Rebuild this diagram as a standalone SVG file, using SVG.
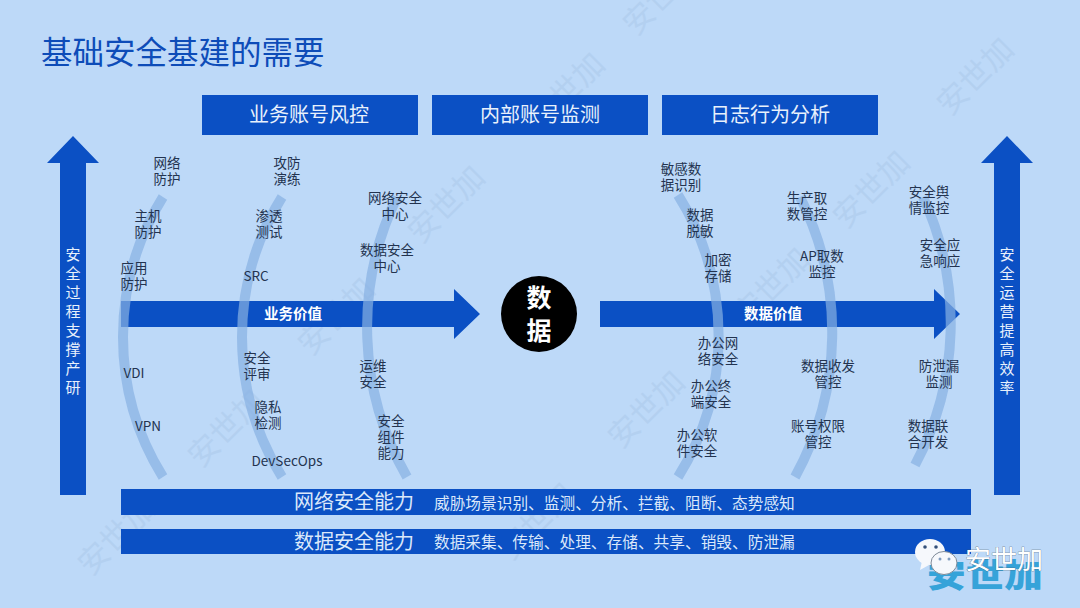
<svg xmlns="http://www.w3.org/2000/svg" width="1080" height="608" viewBox="0 0 1080 608">
<defs>
<style>
text{font-family:"Noto Sans CJK SC","Noto Sans",sans-serif}
.l{font-size:13.5px;fill:#23334f;text-anchor:middle}
.hd{font-size:20px;fill:#e8f1fc;text-anchor:middle}
.bt{font-size:20px;fill:#dbe8fa}
.bs{font-size:15.7px;fill:#dbe8fa}
.v{font-size:14.5px;fill:#fff;font-weight:700;text-anchor:middle}
.s{font-size:15px;fill:#e8f1fc;text-anchor:middle}
.blue{fill:#0b50c4}
.arc{fill:none;stroke:#88b1e2;stroke-width:10;opacity:.7}
.wm{font-size:31px;fill:#a9c6e8;opacity:.45;text-anchor:middle}
</style>
</defs>
<rect width="1080" height="608" fill="#bdd9f8"/>
<g id="watermarks">
<text class="wm" transform="translate(669 4) rotate(-45)">安世加</text>
<text class="wm" transform="translate(574 99) rotate(-45)">安世加</text>
<text class="wm" transform="translate(983 84) rotate(-45)">安世加</text>
<text class="wm" transform="translate(879 197) rotate(-45)">安世加</text>
<text class="wm" transform="translate(779 294) rotate(-45)">安世加</text>
<text class="wm" transform="translate(454 212) rotate(-45)">安世加</text>
<text class="wm" transform="translate(344 324) rotate(-45)">安世加</text>
<text class="wm" transform="translate(654 417) rotate(-45)">安世加</text>
<text class="wm" transform="translate(234 436) rotate(-45)">安世加</text>
<text class="wm" transform="translate(124 544) rotate(-45)">安世加</text>
<text class="wm" transform="translate(544 529) rotate(-45)">安世加</text>
</g>
<text x="41" y="64" font-size="31.500" fill="#0d4cb8">基础安全基建的需要</text>
<g id="header-1"><rect class="blue" x="202" y="95" width="216" height="40"/><text class="hd" x="309" y="122">业务账号风控</text></g>
<g id="header-2"><rect class="blue" x="432" y="95" width="216" height="40"/><text class="hd" x="540" y="122">内部账号监测</text></g>
<g id="header-3"><rect class="blue" x="662" y="95" width="216" height="40"/><text class="hd" x="770" y="122">日志行为分析</text></g>
<g id="left-arrow"><path class="blue" d="M60 495V163H47L73 136L99 163H86V495Z"/>
<text class="s" x="73" y="260">安</text><text class="s" x="73" y="279">全</text><text class="s" x="73" y="298">过</text><text class="s" x="73" y="317">程</text><text class="s" x="73" y="336">支</text><text class="s" x="73" y="355">撑</text><text class="s" x="73" y="374">产</text><text class="s" x="73" y="393">研</text></g>
<g id="right-arrow"><path class="blue" d="M994 495V163H981L1007 136L1033 163H1020V495Z"/>
<text class="s" x="1007" y="260">安</text><text class="s" x="1007" y="279">全</text><text class="s" x="1007" y="298">运</text><text class="s" x="1007" y="317">营</text><text class="s" x="1007" y="336">提</text><text class="s" x="1007" y="355">高</text><text class="s" x="1007" y="374">效</text><text class="s" x="1007" y="393">率</text></g>
<g id="connectors">
<path class="blue" d="M121 301H454V289L480 314L454 339V327H121Z"/>
<path class="blue" d="M600 301H934V289L960 314L934 339V327H600Z"/>
<path class="arc" d="M163 197A265 265 0 0 0 163 477"/>
<path class="arc" d="M282 197A265 265 0 0 0 282 477"/>
<path class="arc" d="M397 197A300 300 0 0 0 407 477"/>
<path class="arc" d="M678 195A265 265 0 0 1 678 477"/>
<path class="arc" d="M800 197A300 300 0 0 1 795 477"/>
<path class="arc" d="M923 197A300 300 0 0 1 915 465"/>
</g>
<g id="value-business"><text class="v" x="293" y="319">业务价值</text></g>
<g id="value-data"><text class="v" x="773" y="319">数据价值</text></g>
<g id="data-center"><circle cx="539" cy="314" r="38" fill="#000"/><text x="539" y="307" font-size="25" font-weight="700" fill="#fff" text-anchor="middle">数</text><text x="539" y="340" font-size="25" font-weight="700" fill="#fff" text-anchor="middle">据</text></g>
<g id="items-left">
<text class="l"><tspan x="167" y="168">网络</tspan><tspan x="167" y="184">防护</tspan></text>
<text class="l"><tspan x="148" y="221">主机</tspan><tspan x="148" y="237">防护</tspan></text>
<text class="l"><tspan x="134" y="273">应用</tspan><tspan x="134" y="289">防护</tspan></text>
<text class="l" x="134" y="378">VDI</text>
<text class="l" x="148" y="431">VPN</text>
<text class="l"><tspan x="287" y="168">攻防</tspan><tspan x="287" y="184">演练</tspan></text>
<text class="l"><tspan x="269" y="221">渗透</tspan><tspan x="269" y="237">测试</tspan></text>
<text class="l" x="256" y="281">SRC</text>
<text class="l"><tspan x="257" y="363">安全</tspan><tspan x="257" y="379">评审</tspan></text>
<text class="l"><tspan x="268" y="412">隐私</tspan><tspan x="268" y="428">检测</tspan></text>
<text class="l" x="287" y="466">DevSecOps</text>
<text class="l"><tspan x="395" y="203">网络安全</tspan><tspan x="395" y="219">中心</tspan></text>
<text class="l"><tspan x="387" y="255">数据安全</tspan><tspan x="387" y="271">中心</tspan></text>
<text class="l"><tspan x="373" y="371">运维</tspan><tspan x="373" y="387">安全</tspan></text>
<text class="l"><tspan x="391" y="426">安全</tspan><tspan x="391" y="442">组件</tspan><tspan x="391" y="458">能力</tspan></text>
</g>
<g id="items-right">
<text class="l"><tspan x="681" y="174">敏感数</tspan><tspan x="681" y="190">据识别</tspan></text>
<text class="l"><tspan x="700" y="220">数据</tspan><tspan x="700" y="236">脱敏</tspan></text>
<text class="l"><tspan x="718" y="265">加密</tspan><tspan x="718" y="281">存储</tspan></text>
<text class="l"><tspan x="718" y="348">办公网</tspan><tspan x="718" y="364">络安全</tspan></text>
<text class="l"><tspan x="711" y="391">办公终</tspan><tspan x="711" y="407">端安全</tspan></text>
<text class="l"><tspan x="697" y="440">办公软</tspan><tspan x="697" y="456">件安全</tspan></text>
<text class="l"><tspan x="807" y="203">生产取</tspan><tspan x="807" y="219">数管控</tspan></text>
<text class="l"><tspan x="822" y="261">AP取数</tspan><tspan x="822" y="277">监控</tspan></text>
<text class="l"><tspan x="828" y="371">数据收发</tspan><tspan x="828" y="387">管控</tspan></text>
<text class="l"><tspan x="818" y="431">账号权限</tspan><tspan x="818" y="447">管控</tspan></text>
<text class="l"><tspan x="929" y="197">安全舆</tspan><tspan x="929" y="213">情监控</tspan></text>
<text class="l"><tspan x="940" y="250">安全应</tspan><tspan x="940" y="266">急响应</tspan></text>
<text class="l"><tspan x="939" y="371">防泄漏</tspan><tspan x="939" y="387">监测</tspan></text>
<text class="l"><tspan x="928" y="431">数据联</tspan><tspan x="928" y="447">合开发</tspan></text>
</g>
<g id="bar-network"><rect class="blue" x="121" y="489" width="850" height="26"/><text class="bt" x="294" y="509">网络安全能力</text><text class="bs" x="434" y="509">威胁场景识别、监测、分析、拦截、阻断、态势感知</text></g>
<g id="bar-data"><rect class="blue" x="121" y="529" width="850" height="25"/><text class="bt" x="294" y="549">数据安全能力</text><text class="bs" x="434" y="548">数据采集、传输、处理、存储、共享、销毁、防泄漏</text></g>
<g id="logo">
<text x="927" y="587" font-size="33" font-weight="900" fill="#36a3d9" textLength="116" lengthAdjust="spacingAndGlyphs">安世加</text>
<ellipse cx="930" cy="552" rx="15" ry="13" fill="#f6f8fc"/>
<path d="M922 561l-2 9l9-5Z" fill="#f6f8fc"/>
<ellipse cx="944" cy="563" rx="13" ry="11.500" fill="#f6f8fc" stroke="#7f8b99" stroke-width="1"/>
<circle cx="925" cy="547" r="1.800" fill="#34507a"/><circle cx="936" cy="547" r="1.800" fill="#34507a"/>
<circle cx="940" cy="559" r="1.500" fill="#7f9cc0"/><circle cx="949" cy="559" r="1.500" fill="#7f9cc0"/>
<text x="965" y="569" font-size="26" fill="#fff" stroke="#4a5a70" stroke-width=".5" paint-order="stroke" textLength="78">安世加</text>
</g>
</svg>
